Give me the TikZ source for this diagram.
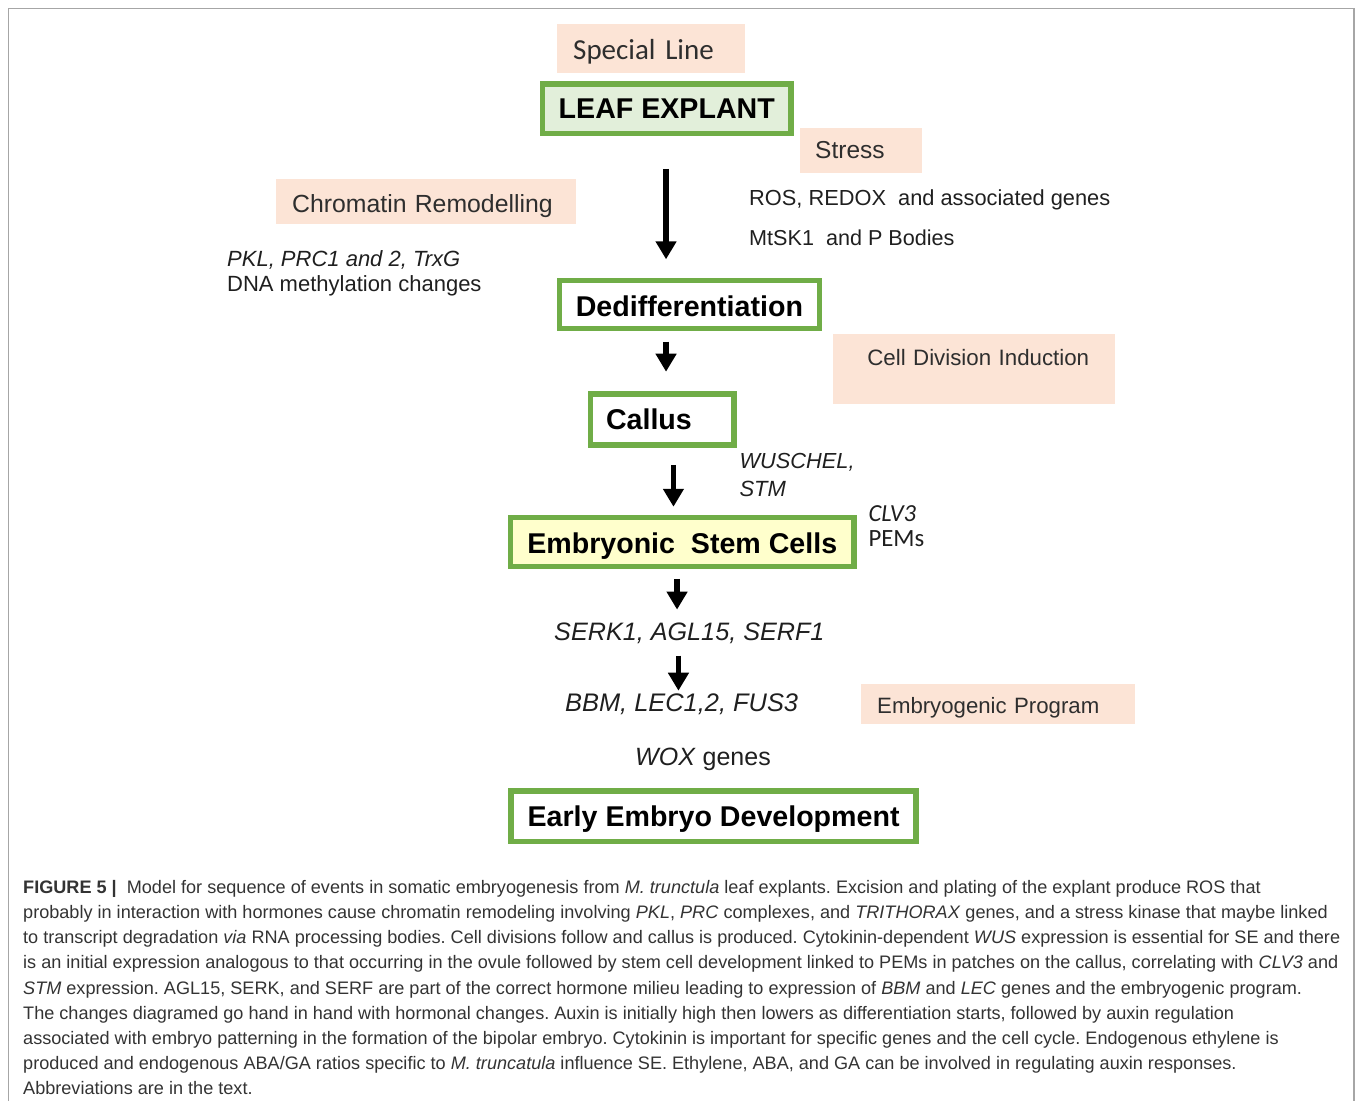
\documentclass[tikz,border=0pt]{standalone}
\usepackage{fontspec}
\setmainfont{Liberation Sans}
\newfontfamily\calibri{Carlito}
\usetikzlibrary{arrows.meta,calc}
\frenchspacing
\definecolor{boxgreen}{HTML}{70AD47}
\definecolor{leafgreen}{HTML}{E2EFDA}
\definecolor{peach}{HTML}{FCE4D6}
\definecolor{stemyellow}{HTML}{FFFFCC}
\definecolor{framegray}{HTML}{A6A6A6}
\tikzset{
  stage/.style={draw=boxgreen, line width=5.5pt, inner sep=0pt, anchor=north west,
    font=\bfseries\fontsize{28.6}{32}\selectfont},
  tag/.style={fill=peach, inner ysep=0pt, anchor=north west, align=left, text=black!82},
  gene/.style={inner sep=0pt, anchor=base west, text=black!88, font=\fontsize{22}{26}\selectfont},
  flow/.style={line width=5.5pt, -{Triangle[width=20pt,length=18pt]}},
  capline/.style={inner sep=0pt, anchor=base west, text=black!80, font=\fontsize{18.1}{20}\selectfont}
}
\begin{document}
\begin{tikzpicture}[x=1pt,y=-1pt]
    \useasboundingbox (0,0) rectangle (1355,1101);
    \draw[framegray, line width=1.5pt] (8.5,1101) -- (8.5,8.5) -- (1354,8.5) -- (1354,1101);

    % main sequence
    \node[stage, fill=leafgreen, minimum width=248.5pt, text height=34.45pt, text depth=14.8pt] (leaf) at (539.75,81.25) {LEAF EXPLANT};
    \node[stage, fill=white, minimum width=259.8pt, text height=35.55pt, text depth=12.25pt] (dediff) at (556.75,277.75) {Dedifferentiation};
    \node[stage, fill=white, align=left, inner xsep=15.5pt, text width=112.5pt, text height=35.65pt, text depth=15.55pt] (callus) at (587.75,391.05) {Callus};
    \node[stage, fill=stemyellow, minimum width=343.5pt, text height=35.95pt, text depth=13.25pt] (stem) at (507.75,514.75) {Embryonic\ \ Stem Cells};
    \node[stage, fill=white, minimum width=404.8pt, text height=34.85pt, text depth=15.65pt] (early) at (508.45,788.45) {Early Embryo Development};

    % influences
    \node[tag, inner xsep=16pt, text width=156pt, text height=36pt, text depth=13.7pt, font=\calibri\fontsize{29}{32}\selectfont] (special) at (557,23.3) {Special Line};
    \node[tag, inner xsep=15pt, text width=92pt, text height=31pt, text depth=14.4pt, font=\fontsize{24.5}{28}\selectfont] (stress) at (800,127.3) {Stress};
    \node[tag, inner xsep=16pt, text width=268pt, text height=34.4pt, text depth=10.6pt, font=\fontsize{24.8}{28}\selectfont] (chromatin) at (276,178.3) {Chromatin Remodelling};
    \node[tag, align=right, inner xsep=26pt, text width=230.3pt, text height=31pt, text depth=38.3pt, font=\fontsize{22.3}{26}\selectfont] (celldiv) at (832.7,334) {Cell Division Induction};
    \node[tag, inner xsep=16.3pt, text width=241.7pt, text height=29.3pt, text depth=10.7pt, font=\fontsize{22.2}{26}\selectfont] (embprog) at (860.7,684) {Embryogenic Program};

    % genes
    \node[gene, font=\fontsize{21.8}{26}\selectfont] (ros) at (749,205.7) {ROS, REDOX\ \ and associated genes};
    \node[gene, font=\fontsize{21.6}{26}\selectfont] (mtsk) at (749,245) {MtSK1\ \ and P Bodies};
    \node[gene] (pkl) at (227,266.7) {\textit{PKL, PRC1 and 2, TrxG}};
    \node[gene] (dna) at (227,291.7) {DNA methylation changes};
    \node[gene, font=\itshape\fontsize{21.8}{26}\selectfont] (wus) at (739.3,468.3) {WUSCHEL,};
    \node[gene, font=\itshape\fontsize{22}{26}\selectfont] (stm) at (739.3,496.7) {STM};
    \node[gene, font=\calibri\itshape\fontsize{24.5}{28}\selectfont] (clv) at (868.3,521.7) {CLV3};
    \node[gene, font=\calibri\fontsize{24.8}{28}\selectfont] (pems) at (868.3,546) {PEMs};
    \node[gene, font=\itshape\fontsize{25.2}{28}\selectfont] (serk) at (554,640.7) {SERK1, AGL15, SERF1};
    \node[gene, font=\itshape\fontsize{25.4}{28}\selectfont] (bbm) at (565,711.7) {BBM, LEC1,2, FUS3};
    \node[gene, font=\fontsize{25}{28}\selectfont] (wox) at (635,765) {\textit{WOX} genes};

    % arrows
    \draw[flow] ($(leaf.south)+(-0.7,32.8)$) -- ($(leaf.south |- dediff.north)+(-0.7,-18.45)$);
    \draw[flow] ($(leaf.south |- dediff.south)+(-0.7,10.45)$) -- ($(leaf.south |- callus.north)+(-0.7,-19.35)$);
    \draw[flow] ($(callus.south)+(11.2,17)$) -- ($(callus.south |- stem.north)+(11.2,-8)$);
    \draw[flow] ($(stem.south)+(-5.2,9.35)$) -- ($(stem.south |- serk.north)+(-5.2,-13.3)$);
    \draw[flow] ($(stem.south |- serk.base)+(-3.8,15)$) -- ($(stem.south |- bbm.base)+(-3.8,-21)$);

    % caption
    \foreach \capt [count=\i] in {
        {\textbf{FIGURE 5 |}\ \ Model for sequence of events in somatic embryogenesis from \textit{M. trunctula} leaf explants. Excision and plating of the explant produce ROS that},
        {probably in interaction with hormones cause chromatin remodeling involving \textit{PKL}, \textit{PRC} complexes, and \textit{TRITHORAX} genes, and a stress kinase that maybe linked},
        {to transcript degradation \textit{via} RNA processing bodies. Cell divisions follow and callus is produced. Cytokinin-dependent \textit{WUS} expression is essential for SE and there},
        {is an initial expression analogous to that occurring in the ovule followed by stem cell development linked to PEMs in patches on the callus, correlating with \textit{CLV3} and},
        {\textit{STM} expression. AGL15, SERK, and SERF are part of the correct hormone milieu leading to expression of \textit{BBM} and \textit{LEC} genes and the embryogenic program.},
        {The changes diagramed go hand in hand with hormonal changes. Auxin is initially high then lowers as differentiation starts, followed by auxin regulation},
        {associated with embryo patterning in the formation of the bipolar embryo. Cytokinin is important for specific genes and the cell cycle. Endogenous ethylene is},
        {produced and endogenous ABA/GA ratios specific to \textit{M. truncatula} influence SE. Ethylene, ABA, and GA can be involved in regulating auxin responses.},
        {Abbreviations are in the text.}}
        \node[capline] (cap\i) at (23,{868.1+25.2*\i}) {\capt};
\end{tikzpicture}
\end{document}
